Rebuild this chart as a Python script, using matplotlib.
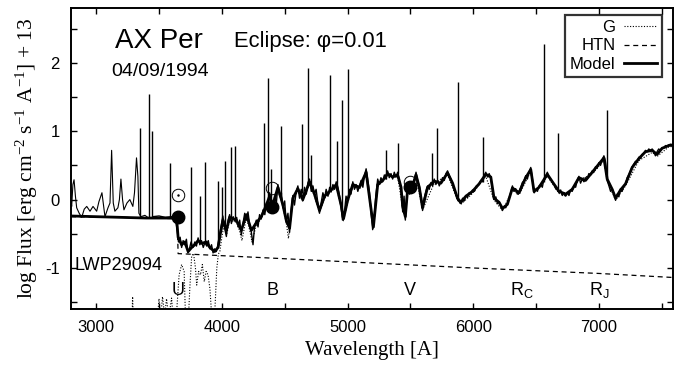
import matplotlib
matplotlib.use("Agg")
import matplotlib.pyplot as plt
import numpy as np

# observed spectrum (IUE LWP + optical), wavelength [A], log flux + 13
OBS_UV = [
  (2800, -0.02), (2805, -0.10), (2815, 0.22), (2824, 0.29), (2835, 0.05), (2845, -0.12),
  (2865, -0.20), (2885, -0.26), (2905, -0.14), (2925, -0.10), (2951, -0.17), (2975, -0.10),
  (3004, -0.17), (3022, -0.03), (3046, 0.10), (3070, -0.25), (3094, -0.12), (3110, -0.05),
  (3123, 0.72), (3136, -0.05), (3149, -0.17), (3173, -0.12), (3185, 0.0), (3197, 0.30),
  (3210, 0.0), (3221, -0.15), (3245, -0.05), (3268, 0.0), (3292, -0.10), (3305, 0.10),
  (3321, 0.61), (3332, 0.34), (3340, -0.20), (3356, -0.25), (3388, -0.23), (3410, -0.26),
]

OBS_OPT = [
  (3450, -0.25), (3500, -0.24), (3550, -0.26), (3600, -0.25), (3630, -0.27),
  (3645, -0.45), (3655, -0.62), (3668, -0.55), (3680, -0.70), (3692, -0.60), (3705, -0.66),
  (3718, -0.58), (3730, -0.78), (3742, -0.72), (3755, -0.62), (3770, -0.70), (3785, -0.62),
  (3798, -0.68), (3811, -0.56), (3825, -0.66), (3838, -0.60), (3852, -0.70), (3865, -0.63),
  (3880, -0.68), (3892, -0.60), (3905, -0.72), (3918, -0.66), (3930, -0.78), (3943, -0.72),
  (3956, -0.76), (3970, -0.66), (3982, -0.52), (3995, -0.38), (4008, -0.24), (4020, -0.40),
  (4036, -0.54), (4050, -0.30), (4062, -0.22), (4076, -0.35), (4090, -0.25), (4105, -0.32),
  (4118, -0.26), (4130, -0.40), (4142, -0.30), (4155, -0.52), (4168, -0.35), (4182, -0.20),
  (4195, -0.30), (4208, -0.18), (4222, -0.38), (4235, -0.48), (4248, -0.66), (4260, -0.40),
  (4274, -0.30), (4288, -0.40), (4300, -0.22), (4314, -0.28), (4328, -0.15), (4342, -0.22),
  (4354, -0.05), (4368, -0.12), (4380, 0.10), (4393, -0.05), (4406, -0.12), (4420, 0.05),
  (4434, -0.05), (4446, 0.22), (4460, 0.05), (4474, 0.10), (4486, -0.12), (4500, -0.02),
  (4512, -0.34), (4526, -0.20), (4539, -0.48), (4552, -0.15), (4565, 0.06), (4578, -0.08),
  (4592, 0.12), (4605, 0.20), (4618, 0.02), (4632, 0.15), (4644, -0.02), (4658, 0.18),
  (4672, 0.08), (4685, 0.25), (4698, 0.30), (4712, 0.12), (4725, 0.20), (4737, 0.08),
  (4750, 0.15), (4764, -0.05), (4777, -0.20), (4790, -0.05), (4804, 0.10), (4817, 0.02),
  (4830, 0.15), (4845, 0.05), (4858, 0.18), (4870, 0.12), (4884, 0.22), (4897, 0.15),
  (4910, 0.26), (4924, 0.18), (4937, 0.05), (4949, -0.12), (4960, -0.30), (4975, -0.20),
  (4988, 0.05), (5002, -0.02), (5015, 0.15), (5028, 0.08), (5042, 0.26), (5055, 0.15),
  (5068, 0.22), (5082, 0.12), (5095, 0.20), (5108, 0.28), (5122, 0.18), (5135, 0.35),
  (5148, 0.45), (5160, 0.30), (5175, 0.10), (5188, -0.20), (5200, -0.44), (5212, -0.25),
  (5225, 0.05), (5240, 0.30), (5253, 0.22), (5266, 0.32), (5280, 0.26), (5293, 0.36),
  (5306, 0.30), (5319, 0.42), (5332, 0.32), (5346, 0.38), (5359, 0.30), (5372, 0.40),
  (5386, 0.33), (5399, 0.40), (5412, 0.28), (5426, 0.15), (5439, -0.18), (5450, 0.05),
  (5460, -0.30), (5470, 0.00), (5478, 0.20), (5492, 0.08), (5505, 0.14), (5518, 0.25),
  (5532, 0.30), (5545, 0.40), (5558, 0.28), (5571, 0.20), (5584, 0.05), (5597, -0.16),
  (5610, 0.02), (5624, 0.12), (5637, 0.20), (5650, 0.15), (5664, 0.25), (5677, 0.20),
  (5690, 0.30), (5703, 0.22), (5717, 0.28), (5730, 0.20), (5743, 0.26), (5756, 0.32),
  (5770, 0.28), (5783, 0.38), (5796, 0.42), (5810, 0.35), (5823, 0.30), (5836, 0.22),
  (5849, 0.15), (5862, 0.08), (5875, 0.00), (5888, -0.03), (5902, -0.06), (5915, 0.02),
  (5928, -0.02), (5942, 0.06), (5955, 0.03), (5968, 0.10), (5981, 0.08), (5994, 0.14),
  (6010, 0.12), (6025, 0.20), (6047, 0.22), (6060, 0.28), (6075, 0.26), (6090, 0.36),
  (6100, 0.40), (6115, 0.33), (6127, 0.38), (6140, 0.32), (6153, 0.15), (6166, 0.00),
  (6180, 0.04), (6193, -0.06), (6206, -0.03), (6220, -0.10), (6233, -0.16), (6246, -0.10),
  (6259, -0.12), (6272, -0.05), (6285, 0.02), (6298, 0.10), (6312, 0.20), (6325, 0.12),
  (6338, 0.16), (6351, 0.08), (6365, 0.12), (6378, 0.18), (6391, 0.25), (6405, 0.28),
  (6418, 0.35), (6431, 0.30), (6444, 0.40), (6458, 0.47), (6471, 0.30), (6484, 0.10),
  (6497, 0.15), (6511, 0.12), (6524, 0.20), (6537, 0.22), (6550, 0.18), (6563, 0.30),
  (6577, 0.35), (6590, 0.40), (6603, 0.32), (6616, 0.30), (6630, 0.26), (6643, 0.22),
  (6656, 0.16), (6670, 0.14), (6683, 0.10), (6696, 0.14), (6709, 0.06), (6723, 0.10),
  (6736, 0.05), (6749, 0.10), (6762, 0.06), (6775, 0.14), (6788, 0.12), (6801, 0.20),
  (6815, 0.18), (6828, 0.28), (6841, 0.34), (6854, 0.24), (6868, 0.30), (6881, 0.26),
  (6894, 0.32), (6907, 0.30), (6920, 0.38), (6934, 0.36), (6947, 0.42), (6960, 0.40),
  (6973, 0.48), (6987, 0.46), (7000, 0.54), (7013, 0.50), (7027, 0.58), (7040, 0.64),
  (7053, 0.55), (7066, 0.28), (7080, 0.20), (7093, 0.12), (7106, 0.16), (7119, 0.08),
  (7133, -0.01), (7146, 0.08), (7159, 0.04), (7172, 0.16), (7185, 0.12), (7199, 0.20),
  (7212, 0.22), (7225, 0.32), (7238, 0.36), (7252, 0.42), (7265, 0.48), (7278, 0.52),
  (7291, 0.56), (7305, 0.55), (7318, 0.62), (7331, 0.60), (7344, 0.66), (7358, 0.68),
  (7371, 0.72), (7384, 0.70), (7397, 0.74), (7411, 0.72), (7424, 0.74), (7437, 0.70),
  (7450, 0.64), (7463, 0.70), (7476, 0.74), (7490, 0.72), (7503, 0.76), (7516, 0.75),
  (7530, 0.79), (7543, 0.78), (7556, 0.80), (7570, 0.81), (7585, 0.80), (7600, 0.82),
]

# emission lines: wavelength, peak, base
LINE_WL = [3345, 3422, 3441, 3586, 3758, 3829, 3864, 3970, 4004, 4023, 4070, 4102,
           4332, 4364, 4388, 4467, 4634, 4686, 4713, 4861, 4920, 4959, 5007, 5309,
           5404, 5674, 5714, 5876, 6079, 6563, 6678, 7065]
LINE_TOP = [1.04, 1.55, 1.01, 0.54, 0.47, 0.05, 0.55, 0.27, 0.19, 0.56, 0.77, 0.78,
            1.12, 1.78, 0.45, 1.08, 1.10, 1.92, 0.65, 1.82, 0.85, 1.46, 1.91, 0.72,
            0.83, 0.68, 1.04, 1.72, 0.92, 2.28, 0.98, 1.31]
LINE_BASE = [-0.25, -0.25, -0.25, -0.25, -0.70, -0.62, -0.63, -0.68, -0.30, -0.40, -0.28, -0.30,
             -0.18, -0.10, 0.00, 0.08, 0.10, 0.25, 0.12, 0.15, 0.20, -0.25, 0.00, 0.30,
             0.38, 0.22, 0.25, 0.00, 0.26, 0.25, 0.12, 0.30]

# model = G + HTN
MODEL = [
  (2800, -0.24), (3000, -0.25), (3200, -0.26), (3400, -0.27), (3600, -0.27), (3640, -0.28),
  (3652, -0.55), (3680, -0.66), (3705, -0.62), (3732, -0.76), (3760, -0.70), (3785, -0.66),
  (3811, -0.60), (3838, -0.64), (3877, -0.62), (3904, -0.70), (3943, -0.76), (3970, -0.70),
  (3988, -0.50), (4009, -0.30), (4036, -0.45), (4062, -0.26), (4115, -0.30), (4155, -0.45),
  (4195, -0.22), (4235, -0.45), (4274, -0.34), (4314, -0.25), (4354, -0.08), (4380, 0.05),
  (4406, -0.08), (4446, 0.18), (4486, -0.08), (4512, -0.30), (4539, -0.42), (4565, 0.02),
  (4605, 0.16), (4644, 0.00), (4698, 0.26), (4737, 0.08), (4777, -0.16), (4817, 0.05),
  (4870, 0.14), (4910, 0.22), (4949, -0.08), (4968, -0.28), (5002, 0.00), (5042, 0.22),
  (5095, 0.18), (5148, 0.40), (5188, -0.15), (5206, -0.40), (5240, 0.22), (5280, 0.28),
  (5319, 0.38), (5359, 0.33), (5399, 0.36), (5426, 0.18), (5439, -0.10), (5460, -0.25),
  (5478, 0.15), (5505, 0.12), (5545, 0.36), (5571, 0.18), (5597, -0.12), (5637, 0.18),
  (5690, 0.27), (5743, 0.24), (5796, 0.39), (5836, 0.24), (5875, 0.02), (5902, -0.04),
  (5942, 0.05), (5994, 0.12), (6047, 0.23), (6100, 0.37), (6140, 0.33), (6166, 0.02),
  (6206, -0.04), (6233, -0.13), (6272, -0.07), (6312, 0.17), (6365, 0.10), (6418, 0.32),
  (6458, 0.44), (6484, 0.12), (6524, 0.18), (6590, 0.37), (6630, 0.26), (6683, 0.12),
  (6736, 0.08), (6788, 0.15), (6841, 0.32), (6894, 0.28), (6947, 0.40), (7000, 0.52),
  (7040, 0.61), (7066, 0.30), (7106, 0.15), (7133, 0.02), (7172, 0.14), (7212, 0.23),
  (7265, 0.47), (7318, 0.60), (7371, 0.70), (7424, 0.72), (7463, 0.66), (7503, 0.75),
  (7556, 0.79), (7600, 0.80),
]

# giant (G) component
G_COMP = [
  (2800, -2.0), (3270, -2.0), (3285, -1.75), (3290, -1.42), (3296, -1.75), (3480, -1.9),
  (3500, -1.45), (3512, -1.75), (3528, -1.42), (3545, -1.70), (3560, -1.45), (3578, -1.72),
  (3600, -1.44), (3615, -1.80), (3640, -1.65), (3660, -1.10), (3680, -0.95), (3700, -1.05),
  (3712, -1.80), (3730, -1.90), (3745, -1.30), (3760, -0.82), (3775, -0.79), (3790, -1.00),
  (3800, -1.25), (3815, -1.05), (3830, -1.10), (3845, -0.95), (3860, -1.20), (3875, -1.05),
  (3890, -1.10), (3905, -1.30), (3915, -1.58), (3930, -1.70), (3945, -1.60), (3960, -1.00),
  (3972, -0.80), (3985, -0.75), (4000, -0.55), (4020, -0.35), (4040, -0.50), (4062, -0.30),
  (4115, -0.33), (4140, -0.45), (4160, -0.60), (4195, -0.26), (4222, -0.45), (4240, -0.62),
  (4274, -0.37), (4314, -0.28), (4354, -0.11), (4380, 0.02), (4406, -0.11), (4446, 0.15),
  (4486, -0.11), (4512, -0.33), (4530, -0.57), (4565, -0.01), (4605, 0.13), (4644, -0.03),
  (4698, 0.23), (4737, 0.05), (4777, -0.19), (4817, 0.02), (4870, 0.11), (4910, 0.19),
  (4949, -0.11), (4968, -0.31), (5002, -0.03), (5042, 0.19), (5095, 0.15), (5148, 0.37),
  (5188, -0.18), (5206, -0.43), (5240, 0.19), (5319, 0.35), (5399, 0.33), (5439, -0.13),
  (5460, -0.28), (5478, 0.12), (5545, 0.33), (5597, -0.15), (5690, 0.24), (5796, 0.36),
  (5875, -0.01), (5902, -0.07), (5994, 0.09), (6100, 0.34), (6166, -0.01), (6233, -0.16),
  (6312, 0.14), (6365, 0.07), (6458, 0.41), (6484, 0.09), (6590, 0.34), (6683, 0.09),
  (6736, 0.05), (6841, 0.29), (6947, 0.37), (7040, 0.58), (7066, 0.27), (7133, -0.01),
  (7212, 0.20), (7318, 0.57), (7424, 0.69), (7463, 0.63), (7556, 0.77), (7600, 0.78),
]

# nebular continuum (HTN)
HTN_WL = [2800, 3200, 3645, 3652, 4000, 5000, 6000, 7000, 7600]
HTN_FLUX = [-0.25, -0.26, -0.28, -0.79, -0.82, -0.91, -1.00, -1.08, -1.14]

# photometry U, B, V
BAND_WL = [3650, 4400, 5500]
PHOT_ECLIPSE = [-0.25, -0.11, 0.18]
PHOT_OUT = [0.07, 0.17, 0.26]

BAND_LABELS = ["U", "B", "V", r"R$_\mathsf{C}$", r"R$_\mathsf{J}$"]
BAND_LABEL_WL = [3650, 4400, 5500, 6390, 7000]


def main():
  plt.rcParams["font.family"] = ["Liberation Sans", "DejaVu Sans"]
  plt.rcParams["mathtext.fontset"] = "custom"
  plt.rcParams["mathtext.rm"] = "Liberation Serif"
  plt.rcParams["mathtext.sf"] = "Liberation Sans"
  plt.rcParams["mathtext.default"] = "regular"
  plt.rcParams["axes.unicode_minus"] = False

  fig = plt.figure(figsize=(6.81, 3.67), dpi=100)
  ax = fig.add_axes([0.1043, 0.158, 0.884, 0.820])

  g_wl, g_fl = np.array(G_COMP).T
  m_wl, m_fl = np.array(MODEL).T
  uv_wl, uv_fl = np.array(OBS_UV).T
  op_wl, op_fl = np.array(OBS_OPT).T

  ax.plot(g_wl, g_fl, color="black", lw=0.8, ls=(0, (1, 1.5)), label="G")
  ax.plot(HTN_WL, HTN_FLUX, color="black", lw=0.9, ls=(0, (4, 3)), label="HTN")
  ax.plot(m_wl, m_fl, color="black", lw=2.0, label="Model")
  ax.plot(uv_wl, uv_fl, color="black", lw=0.8)
  ax.plot(op_wl, op_fl, color="black", lw=1.0)
  ax.vlines(LINE_WL, LINE_BASE, LINE_TOP, color="black", lw=1.0)

  ax.plot(BAND_WL, PHOT_OUT, "o", ms=9, mfc="none", mec="black", mew=0.7)
  ax.plot(BAND_WL[:1], PHOT_OUT[:1], ".", ms=1.5, color="black")
  ax.plot(BAND_WL, PHOT_ECLIPSE, "o", ms=9, color="black")

  for lab, wl in zip(BAND_LABELS, BAND_LABEL_WL):
    ax.text(wl, -1.39, lab, fontsize=13, ha="center", va="baseline")

  ax.text(3150, 2.22, "AX Per", fontsize=20, va="baseline")
  ax.text(3118, 1.80, "04/09/1994", fontsize=14, va="baseline")
  ax.text(4100, 2.23, "Eclipse: \u03c6=0.01", fontsize=15.8, va="baseline")
  ax.text(2830, -0.96, "LWP29094", fontsize=13, va="center")

  ax.set_xlim(2800, 7590)
  ax.set_ylim(-1.6, 2.8)
  ax.set_xticks([3000, 4000, 5000, 6000, 7000])
  ax.set_xticks(np.arange(3000, 7600, 500), minor=True)
  ax.set_yticks([-1, 0, 1, 2])
  ax.set_yticks([-1.5, -0.5, 0.5, 1.5, 2.5], minor=True)
  ax.tick_params(which="both", direction="in", top=True, right=True,
                 length=4, width=1.0, labelsize=12, pad=8)
  for sp in ax.spines.values():
    sp.set_linewidth(1.4)

  ax.set_xlabel("Wavelength [A]", family="Liberation Serif", fontsize=15)
  ax.xaxis.set_label_coords(0.5, -0.105)
  ax.set_ylabel(r"log Flux [erg cm$^{-2}$ s$^{-1}$ A$^{-1}$] + 13",
                family="Liberation Serif", fontsize=15.5)
  ax.yaxis.set_label_coords(-0.052, 0.5)

  leg = ax.legend(loc="upper right", bbox_to_anchor=(0.972, 0.959),
                  bbox_transform=fig.transFigure, markerfirst=False,
                  fontsize=12, frameon=True, fancybox=False, handlelength=2.0,
                  handletextpad=0.5, labelspacing=0.2, borderpad=0.3,
                  borderaxespad=0)
  leg.get_frame().set_edgecolor("black")
  leg.get_frame().set_linewidth(1.6)

  fig.savefig("out.png", dpi=100)
  plt.close(fig)


if __name__ == "__main__":
  main()
